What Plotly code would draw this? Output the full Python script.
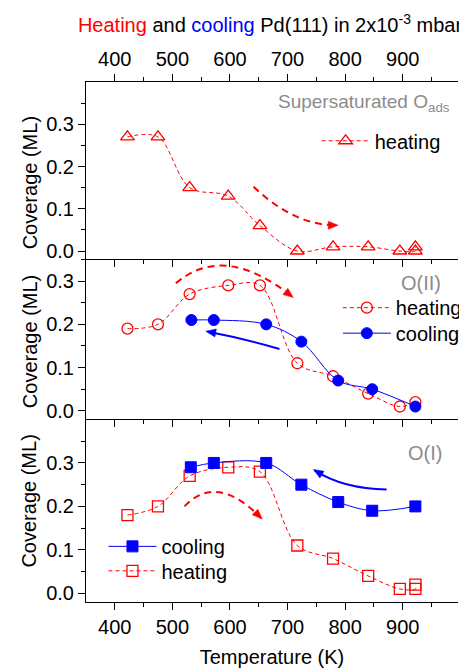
import math
import plotly.graph_objects as go

# ---------------- data ----------------
ss_T = [422, 475, 530, 597, 652, 717, 779, 840, 895, 922, 922]
ss_heat = [0.27, 0.27, 0.15, 0.13, 0.06, 0.00, 0.01, 0.01, 0.00, 0.00, 0.01]

o2_heat_T = [422, 475, 530, 597, 652, 717, 779, 840, 895, 922]
o2_heat = [0.19, 0.20, 0.27, 0.29, 0.29, 0.11, 0.08, 0.04, 0.01, 0.02]
o2_cool_T = [533, 572, 663, 724, 788, 847, 922]
o2_cool = [0.21, 0.21, 0.20, 0.16, 0.07, 0.05, 0.01]

o1_heat_T = [422, 475, 530, 597, 652, 717, 779, 840, 895, 922, 922]
o1_heat = [0.18, 0.20, 0.27, 0.29, 0.28, 0.11, 0.08, 0.04, 0.01, 0.01, 0.02]
o1_cool_T = [532, 572, 663, 724, 788, 847, 922]
o1_cool = [0.29, 0.30, 0.30, 0.25, 0.21, 0.19, 0.20]

x_ticks = [400, 500, 600, 700, 800, 900]
x_minor = [450, 550, 650, 750, 850, 950]
y_ticks = [0.0, 0.1, 0.2, 0.3]
y_minor = [0.05, 0.15, 0.25, 0.35]

RED = "#ff0000"
BLUE = "#0000ff"
GREY = "#8c8c8c"
FONT = "Liberation Sans, Arial, sans-serif"
FS = 20

fig = go.Figure()

def heat_trace(x, y, sym, size, xa, ya, leg):
    return go.Scatter(
        x=x, y=y, mode="lines+markers", name="heating",
        line=dict(color=RED, width=1, dash="4px,3px", shape="spline", smoothing=1),
        marker=dict(symbol=sym, size=size, color=RED, line=dict(color=RED, width=1.3)),
        xaxis=xa, yaxis=ya, legend=leg)

def cool_trace(x, y, sym, xa, ya, leg):
    return go.Scatter(
        x=x, y=y, mode="lines+markers", name="cooling",
        line=dict(color=BLUE, width=1, shape="spline", smoothing=1),
        marker=dict(symbol=sym, size=11, color=BLUE, line=dict(color=BLUE, width=1)),
        xaxis=xa, yaxis=ya, legend=leg)

fig.add_trace(heat_trace(ss_T, ss_heat, "triangle-up-open", 12, "x", "y", "legend"))
fig.add_trace(heat_trace(o2_heat_T, o2_heat, "circle-open", 11, "x2", "y2", "legend2"))
fig.add_trace(cool_trace(o2_cool_T, o2_cool, "circle", "x2", "y2", "legend3"))
fig.add_trace(heat_trace(o1_heat_T, o1_heat, "square-open", 11, "x3", "y3", "legend5"))
fig.add_trace(cool_trace(o1_cool_T, o1_cool, "square", "x3", "y3", "legend4"))

# ---------------- axes ----------------
XR = [350, 996]
axis_common = dict(showline=True, linecolor="black", linewidth=1, ticks="outside",
                   ticklen=7, tickwidth=1, tickcolor="black", showgrid=False,
                   zeroline=False, tickfont=dict(family=FONT, size=FS, color="black"))
xcommon = dict(axis_common, range=XR, tickvals=x_ticks,
               minor=dict(ticks="outside", ticklen=4, tickvals=x_minor, tickcolor="black"))
ycommon = dict(axis_common, tickvals=y_ticks, tickformat=".1f",
               minor=dict(ticks="outside", ticklen=4, tickvals=y_minor, tickcolor="black"))

d3 = [0.0, 0.351]
d2 = [0.351, 0.6587]
d1 = [0.6587, 1.0]

fig.update_layout(
    xaxis=dict(xcommon, anchor="y", side="top", mirror="allticks", showticklabels=True),
    xaxis2=dict(xcommon, anchor="y2", showticklabels=False),
    xaxis3=dict(xcommon, anchor="y3", showticklabels=True,
                title=dict(text="Temperature (K)", font=dict(family=FONT, size=FS, color="black"),
                           standoff=12)),
    yaxis=dict(ycommon, domain=d1, range=[-0.02, 0.40], anchor="x"),
    yaxis2=dict(ycommon, domain=d2, range=[-0.02, 0.35], anchor="x2"),
    yaxis3=dict(ycommon, domain=d3, range=[-0.02, 0.40], anchor="x3"),
)

# ---------------- legends (one entry each) ----------------
leg_common = dict(bgcolor="rgba(0,0,0,0)", borderwidth=0, itemwidth=48,
                  font=dict(family=FONT, size=FS, color="black"),
                  xanchor="left", yanchor="middle")
fig.update_layout(
    legend=dict(leg_common, x=0.620, y=0.887),
    legend2=dict(leg_common, x=0.677, y=0.566),
    legend3=dict(leg_common, x=0.677, y=0.517),
    legend4=dict(leg_common, x=0.047, y=0.107),
    legend5=dict(leg_common, x=0.047, y=0.060),
    showlegend=True,
)

# ---------------- text ----------------
title_txt = ("<span style='color:#ff0000'>Heating</span> and "
             "<span style='color:#0000ff'>cooling</span> Pd(111) in 2x10<sup>-3</sup> mbar")
fig.update_layout(title=dict(text=title_txt, x=0.5708, xanchor="center", y=1 - 17 / 660,
                             yanchor="middle", font=dict(family=FONT, size=FS, color="black")))

ann = []
for yc in [0.806, 0.5006, 0.194]:
    ann.append(dict(text="Coverage (ML)", xref="paper", yref="paper", x=-0.152, y=yc,
                    textangle=-90, showarrow=False, xanchor="center", yanchor="middle",
                    font=dict(family=FONT, size=FS, color="black")))
ann.append(dict(text="Supersaturated O<sub>ads</sub>", xref="x domain", yref="y domain",
                x=0.512, y=0.88, xanchor="left", yanchor="middle", showarrow=False,
                font=dict(family=FONT, size=19, color=GREY)))
ann.append(dict(text="O(II)", xref="x2 domain", yref="y2 domain", x=0.842, y=0.853,
                xanchor="left", yanchor="middle", showarrow=False,
                font=dict(family=FONT, size=FS, color=GREY)))
ann.append(dict(text="O(I)", xref="x3 domain", yref="y3 domain", x=0.860, y=0.816,
                xanchor="left", yanchor="middle", showarrow=False,
                font=dict(family=FONT, size=FS, color=GREY)))
fig.update_layout(annotations=ann)

# ---------------- curved guide arrows (decoration) ----------------
def head(xa, ya, xr, yr, dx, dy, color, L=10, W=4):
    n = math.hypot(dx, dy)
    ux, uy = dx / n, dy / n
    bx, by = -L * ux, -L * uy
    nx, ny = -uy, ux
    p1 = (bx + W * nx, by + W * ny)
    p2 = (bx - W * nx, by - W * ny)
    path = f"M0,0 L{p1[0]:.2f},{p1[1]:.2f} L{p2[0]:.2f},{p2[1]:.2f} Z"
    return dict(type="path", xref=xr, yref=yr, xsizemode="pixel", ysizemode="pixel",
                xanchor=xa, yanchor=ya, path=path, fillcolor=color,
                line=dict(color=color, width=0.5))

DASH = "7px,5px"
shapes = [
    dict(type="path", xref="x", yref="y", path="M 641,0.152 Q 712,0.060 786,0.061",
         line=dict(color=RED, width=2, dash=DASH)),
    head(788, 0.061, "x", "y", 1, 0, RED),
    dict(type="path", xref="x2", yref="y2", path="M 506,0.295 Q 590,0.390 708,0.264",
         line=dict(color=RED, width=2, dash=DASH)),
    head(710, 0.262, "x2", "y2", 70.7, -54.3, RED),
    dict(type="path", xref="x2", yref="y2", path="M 686,0.143 Q 622,0.168 562,0.183",
         line=dict(color=BLUE, width=2)),
    head(558, 0.184, "x2", "y2", -36.6, 6.4, BLUE),
    dict(type="path", xref="x3", yref="y3", path="M 521,0.200 Q 577,0.2785 654,0.173",
         line=dict(color=RED, width=2, dash=DASH)),
    head(656, 0.171, "x3", "y3", 46.8, -46.1, RED),
    dict(type="path", xref="x3", yref="y3", path="M 872,0.239 Q 797,0.2405 747,0.283",
         line=dict(color=BLUE, width=2)),
    head(745, 0.285, "x3", "y3", -30.4, 18.7, BLUE),
]
fig.update_layout(shapes=shapes)

# page body has an 8px margin, so the figure is 8px smaller than the window
fig.update_layout(width=459, height=660, margin=dict(l=78, r=0, t=74, b=66),
                  paper_bgcolor="white", plot_bgcolor="white",
                  font=dict(family=FONT, size=FS, color="black"))

fig.write_html("out.html")
